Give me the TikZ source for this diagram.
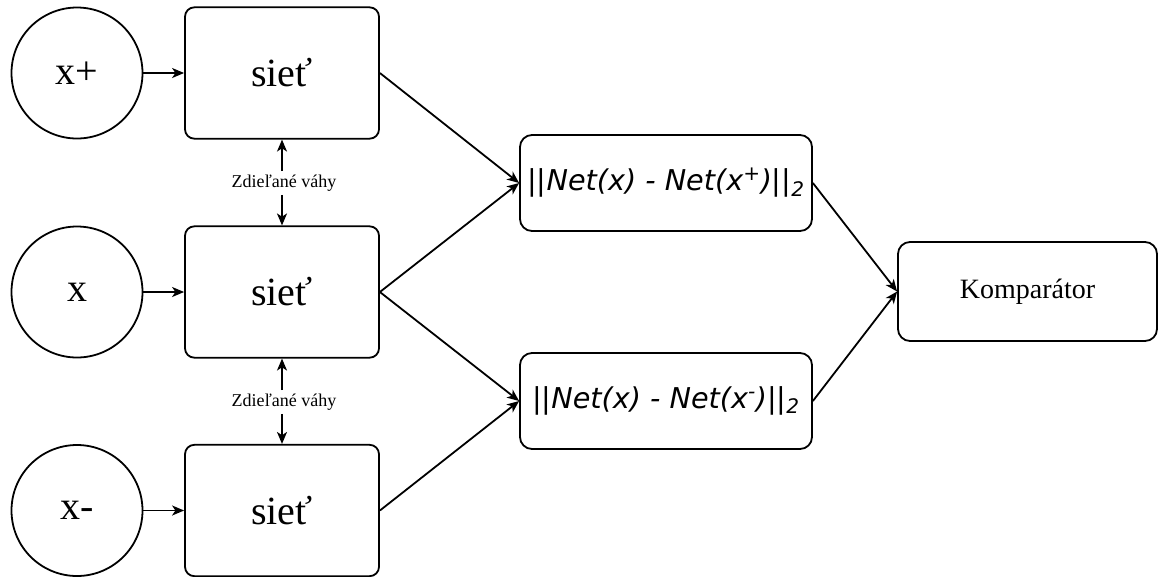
\documentclass[tikz,border=0pt]{standalone}
\usepackage{fontspec}
\setmainfont{Liberation Serif}
\newfontfamily\formfont{DejaVu Sans}
\usetikzlibrary{arrows.meta}
\begin{document}
\begin{tikzpicture}[x=0.75pt,y=-0.75pt,
  every node/.style={line width=1.35pt},
  inp/.style={draw, circle, minimum size=98.25pt, inner sep=0pt, font=\fontsize{30}{34}\selectfont},
  netbox/.style={draw, rounded corners=7pt, minimum width=145.5pt, minimum height=98.5pt, inner sep=0pt, font=\fontsize{30}{34}\selectfont},
  formbox/.style={draw, rounded corners=9pt, minimum width=219pt, minimum height=72pt, inner sep=0pt, font=\formfont\fontsize{21.5}{26}\selectfont},
  compbox/.style={draw, rounded corners=9pt, minimum width=194.25pt, minimum height=74.25pt, inner sep=0pt, font=\fontsize{21}{25}\selectfont},
  shared/.style={inner sep=2pt, font=\fontsize{13.5}{16}\selectfont},
  conn/.style={line width=1.35pt, -{Stealth[length=9pt,width=7.5pt,inset=2.5pt]}}
]
\useasboundingbox (0,0) rectangle (1160,576);

\node[inp] (c1) at (77,73) {x+};
\node[inp] (c2) at (77,292) {x};
\node[inp] (c3) at (77,510.5) {x-};

\node[netbox] (n1) at (282,73) {sieť};
\node[netbox] (n2) at (282,292) {sieť};
\node[netbox] (n3) at (282,510.5) {sieť};

\node[formbox] (f1) at (666,183) {||\textit{Net(x) - Net(x\textsuperscript{+})}||\textsubscript{\textit{2}}};
\node[formbox] (f2) at (666,401) {||\textit{Net(x) - Net(x\textsuperscript{-})}||\textsubscript{\textit{2}}};

\node[compbox] (k) at (1027.5,291.5) {Komparátor};

\node[shared] (s1) at (284,183) {Zdieľané váhy};
\node[shared] (s2) at (284,402) {Zdieľané váhy};

\draw[conn] (c1) -- (n1);
\draw[conn] (c2) -- (n2);
\draw[conn] (c3) -- (n3);

\draw[conn] (n1.east) -- (f1.west);
\draw[conn] (n2.east) -- (f1.west);
\draw[conn] (n2.east) -- (f2.west);
\draw[conn] (n3.east) -- (f2.west);

\draw[conn] (f1.east) -- (k.west);
\draw[conn] (f2.east) -- (k.west);

\draw[conn] (n1.south |- s1.north) -- (n1.south);
\draw[conn] (n2.north |- s1.south) -- (n2.north);
\draw[conn] (n2.south |- s2.north) -- (n2.south);
\draw[conn] (n3.north |- s2.south) -- (n3.north);
\end{tikzpicture}
\end{document}
